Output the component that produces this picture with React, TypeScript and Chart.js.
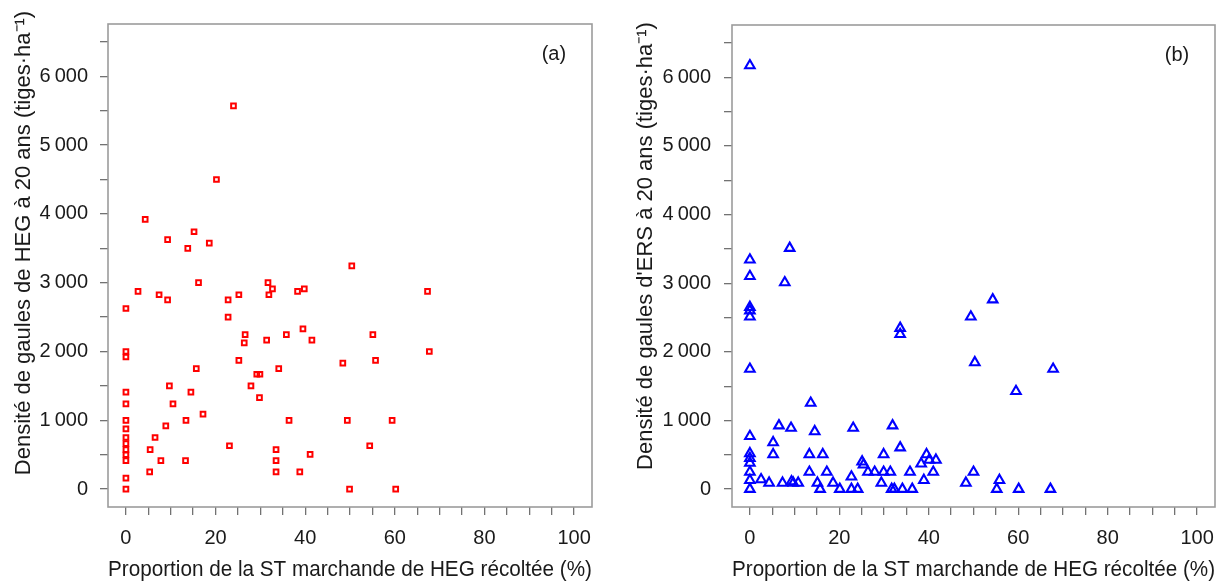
import React, { useEffect, useRef } from "react";
import { Chart, registerables } from "chart.js";

Chart.register(...registerables);

// Panel (a): HEG sapling density vs proportion of HEG merchantable basal area harvested
const hegX = [
  24.0, 20.2, 4.3, 15.2, 9.3, 18.6, 13.8, 50.4, 16.2, 2.7, 7.4, 9.3, 0, 22.8, 25.2,
  22.8, 31.7, 32.7, 31.9, 38.3, 39.8, 0, 0, 26.6, 26.4, 31.4, 35.8, 39.5, 41.5, 25.2,
  15.7, 29.2, 29.9, 34.1, 48.4, 0, 9.7, 14.5, 27.9, 29.8, 0, 10.5, 0, 13.4, 17.2,
  36.4, 49.4, 0, 8.9, 0, 6.5, 0, 0, 5.4, 23.1, 33.5, 0, 0, 7.8, 13.3,
  33.5, 41.1, 5.3, 33.5, 38.8, 0, 0, 49.9, 67.3, 55.1, 67.7, 55.7, 59.4, 54.4, 60.2,
];
const hegY = [
  5570, 4500, 3920, 3740, 3625, 3575, 3500, 3245, 3000, 2875, 2825, 2750, 2625, 2750, 2825,
  2500, 3000, 2910, 2825, 2875, 2910, 2000, 1920, 2245, 2125, 2165, 2245, 2330, 2165, 1870,
  1750, 1670, 1670, 1750, 1830, 1410, 1500, 1410, 1500, 1330, 1240, 1240, 1000, 1000, 1090,
  1000, 1000, 875, 920, 750, 750, 660, 575, 575, 630, 575, 500, 415, 415, 415,
  415, 505, 250, 250, 250, 160, 0, 0, 2875, 2245, 2000, 1870, 1000, 630, 0,
];

// Panel (b): ERS sapling density vs proportion of HEG merchantable basal area harvested
const ersX = [
  0, 0, 0, 0, 0, 0, 0, 0, 0, 0, 0, 0, 0, 0,
  8.9, 7.8, 33.6, 33.6, 49.4, 50.3, 13.6, 5.2, 6.5, 9.2, 14.5, 23.1, 31.9, 33.6,
  5.2, 13.3, 16.3, 29.9, 25.1, 25.4, 39.5, 38.3, 40.1, 41.6, 2.5, 4.3, 7.3, 9.3,
  9.7, 10.8, 13.3, 15.1, 15.7, 17.2, 18.6, 20.1, 22.7, 22.7, 24.1, 26.4, 27.9, 29.4,
  29.9, 31.4, 31.7, 32.3, 34.1, 35.8, 36.3, 38.9, 41.0, 48.3, 50.0, 54.3, 67.8, 59.5,
  55.8, 55.2, 60.1, 67.2,
];
const ersY = [
  6170, 3340, 3100, 2650, 2600, 2510, 1750, 770, 520, 450, 380, 250, 130, 0,
  3510, 3010, 2345, 2255, 2510, 1845, 1255, 680, 925, 890, 840, 890, 925, 605,
  505, 505, 505, 505, 400, 355, 505, 370, 425, 425, 140, 90, 90, 110,
  90, 90, 250, 90, 0, 250, 90, 0, 180, 0, 0, 250, 250, 90,
  250, 250, 0, 0, 0, 250, 0, 130, 250, 90, 250, 2760, 1750, 1425,
  130, 0, 0, 0,
];

const xTickValues = [0, 5, 10, 15, 20, 25, 30, 35, 40, 45, 50, 55, 60, 65, 70, 75, 80, 85, 90, 95, 100];
const xLabelValues = [0, 20, 40, 60, 80, 100];
const yTickValues = [0, 500, 1000, 1500, 2000, 2500, 3000, 3500, 4000, 4500, 5000, 5500, 6000, 6500];
const yLabelValues = [0, 1000, 2000, 3000, 4000, 5000, 6000];

const xTitle = "Proportion de la ST marchande de HEG récoltée (%)";
const yTitleA = "Densité de gaules de HEG à 20 ans (tiges·ha\u207B\u00B9)";
const yTitleB = "Densité de gaules d'ERS à 20 ans (tiges·ha\u207B\u00B9)";

const FONT = "'Liberation Sans', Arial, Helvetica, sans-serif";

function fmtY(v: number): string {
  if (v >= 1000) {
    const s = String(v);
    return s.slice(0, s.length - 3) + "\u2009" + s.slice(s.length - 3);
  }
  return String(v);
}

type PanelProps = {
  xs: number[];
  ys: number[];
  color: string;
  pointStyle: string;
  radius: number;
  borderWidth: number;
  label: string;
  yTitle: string;
  yWidth: number;
  rightPad: number;
  yTickPad: number;
  yTitleX: number;
  yTitleY: number;
};

function ScatterPanel(p: PanelProps) {
  const ref = useRef<HTMLCanvasElement | null>(null);

  useEffect(() => {
    if (!ref.current) return;
    const points = p.xs.map((x, i) => ({ x, y: p.ys[i] }));

    const boxPlugin = {
      id: "boxAndLabel",
      afterDraw(chart: any) {
        const { ctx, chartArea, scales } = chart;
        ctx.save();
        ctx.strokeStyle = "#9c9c9c";
        ctx.lineWidth = 1.6;
        ctx.strokeRect(chartArea.left, chartArea.top, chartArea.right - chartArea.left, chartArea.bottom - chartArea.top);
        ctx.fillStyle = "#1a1a1a";
        ctx.font = `20px ${FONT}`;
        ctx.textAlign = "center";
        ctx.textBaseline = "middle";
        ctx.fillText(p.label, scales.x.getPixelForValue(95.5), scales.y.getPixelForValue(6320));
        // y-axis title
        ctx.font = `22px ${FONT}`;
        ctx.translate(p.yTitleX, p.yTitleY);
        ctx.rotate(-Math.PI / 2);
        ctx.fillText(p.yTitle, 0, 0);
        ctx.restore();
      },
    };

    const gridOpts = {
      display: true,
      drawOnChartArea: false,
      drawTicks: true,
      tickLength: 8,
      color: "#727272",
      lineWidth: 1.3,
    };

    const chart = new Chart(ref.current, {
      type: "scatter",
      data: {
        datasets: [
          {
            data: points,
            pointStyle: p.pointStyle as any,
            pointRadius: p.radius,
            pointHoverRadius: p.radius,
            pointBorderColor: p.color,
            pointBackgroundColor: "rgba(255,255,255,0)",
            pointBorderWidth: p.borderWidth,
            pointHoverBorderWidth: p.borderWidth,
            showLine: false,
          },
        ],
      },
      options: {
        responsive: false,
        animation: false,
        events: [],
        layout: { padding: { top: 8, right: p.rightPad, left: 0, bottom: 0 } },
        plugins: {
          legend: { display: false },
          tooltip: { enabled: false },
        },
        scales: {
          x: {
            type: "linear",
            min: -4,
            max: 104,
            afterBuildTicks: (s: any) => {
              s.ticks = xTickValues.map((v) => ({ value: v }));
            },
            afterFit: (s: any) => {
              s.height = 77;
            },
            ticks: {
              autoSkip: false,
              maxRotation: 0,
              padding: 11,
              color: "#1a1a1a",
              font: { family: FONT, size: 20 },
              callback: (v: any) => (xLabelValues.includes(Number(v)) ? String(v) : ""),
            },
            grid: gridOpts,
            border: { display: false },
            title: {
              display: true,
              text: xTitle,
              color: "#1a1a1a",
              font: { family: FONT, size: 22 },
              padding: { top: 0, bottom: 1 },
            },
          },
          y: {
            type: "linear",
            min: -260,
            max: 6760,
            afterBuildTicks: (s: any) => {
              s.ticks = yTickValues.map((v) => ({ value: v }));
            },
            afterFit: (s: any) => {
              s.width = p.yWidth;
            },
            ticks: {
              autoSkip: false,
              padding: p.yTickPad,
              color: "#1a1a1a",
              font: { family: FONT, size: 20 },
              callback: (v: any) => (yLabelValues.includes(Number(v)) ? fmtY(Number(v)) : ""),
            },
            grid: gridOpts,
            border: { display: false },
            title: { display: false },
          },
        },
      } as any,
      plugins: [boxPlugin],
    });

    return () => chart.destroy();
  }, []);

  return <canvas ref={ref} width={616} height={584} style={{ display: "block", width: 616, height: 584 }} />;
}

export default function App() {
  return (
    <div
      style={{
        position: "absolute",
        left: 0,
        top: 0,
        width: 1232,
        height: 584,
        display: "flex",
        background: "#ffffff",
      }}
    >
      <ScatterPanel
        xs={hegX}
        ys={hegY}
        color="#ff0000"
        pointStyle="rect"
        radius={3.3}
        borderWidth={2}
        label="(a)"
        yTitle={yTitleA}
        yWidth={108}
        rightPad={24}
        yTickPad={12}
        yTitleX={24}
        yTitleY={243}
      />
      <ScatterPanel
        xs={ersX}
        ys={ersY}
        color="#0000ff"
        pointStyle="triangle"
        radius={5.5}
        borderWidth={2.1}
        label="(b)"
        yTitle={yTitleB}
        yWidth={116}
        rightPad={17}
        yTickPad={13}
        yTitleX={29.5}
        yTitleY={246}
      />
    </div>
  );
}
